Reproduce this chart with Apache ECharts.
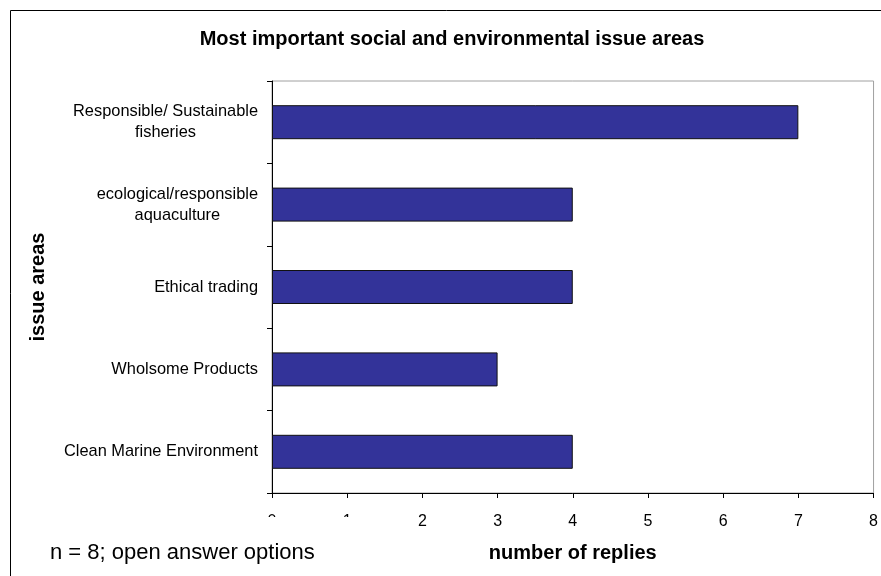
<!DOCTYPE html>
<html>
<head>
<meta charset="utf-8">
<script src="https://cdn.jsdelivr.net/npm/echarts@6/dist/echarts.min.js"></script>
<style>
  html, body { margin: 0; padding: 0; background: #fff; }
  #chart { width: 881px; height: 576px; }
</style>
</head>
<body>
<div id="chart"></div>
<script>
// Categories listed top to bottom
const categories = [
  'Responsible/ Sustainable\nfisheries',
  'ecological/responsible\naquaculture',
  'Ethical trading',
  'Wholsome Products',
  'Clean Marine Environment'
];
const replies = [7, 4, 4, 3, 4];
const xTicks = { min: 0, max: 8, interval: 1 };
const titleText = 'Most important social and environmental issue areas';
const xName = 'number of replies';
const yName = 'issue areas';
const noteText = 'n = 8; open answer options';

const FONT = '"Liberation Sans", Arial, sans-serif';

const chart = echarts.init(document.getElementById('chart'), null, { renderer: 'canvas' });
chart.setOption({
  backgroundColor: '#fff',
  animation: false,
  title: {
    text: titleText,
    left: 447,
    top: 24,
    textAlign: 'center',
    textStyle: { fontFamily: FONT, fontSize: 20, fontWeight: 'bold', color: '#000' }
  },
  grid: {
    left: 272, right: 5, top: 81, bottom: 83,
    show: true, borderColor: '#a0a0a0', borderWidth: 1, backgroundColor: 'transparent'
  },
  xAxis: {
    type: 'value',
    min: xTicks.min, max: xTicks.max, interval: xTicks.interval,
    name: xName,
    nameLocation: 'middle',
    nameGap: 50,
    nameTextStyle: { fontFamily: FONT, fontSize: 20, fontWeight: 'bold', color: '#000' },
    axisLine: { show: true, lineStyle: { color: '#000', width: 1 } },
    axisTick: { show: true, length: 5, lineStyle: { color: '#000' } },
    splitLine: { show: false },
    axisLabel: { fontFamily: FONT, fontSize: 16, color: '#000', margin: 21 }
  },
  yAxis: {
    type: 'category',
    inverse: true,
    data: categories,
    name: yName,
    nameLocation: 'middle',
    nameGap: 224,
    nameRotate: 90,
    nameTextStyle: { fontFamily: FONT, fontSize: 20, fontWeight: 'bold', color: '#000' },
    axisLine: { show: true, lineStyle: { color: '#000', width: 1 } },
    axisTick: { show: true, length: 5, lineStyle: { color: '#000' } },
    splitLine: { show: false },
    axisLabel: {
      fontFamily: FONT, fontSize: 16.4, color: '#000', margin: 14, lineHeight: 21,
      formatter: function (v) {
        return v.split('\n').map(function (s) { return '{c|' + s + '}'; }).join('\n');
      },
      rich: { c: { align: 'center', fontFamily: FONT, fontSize: 16.4, color: '#000', lineHeight: 21 } }
    }
  },
  series: [{
    type: 'bar',
    data: replies,
    barWidth: 34,
    itemStyle: { color: '#333399', borderColor: '#111', borderWidth: 1 }
  }],
  graphic: [
    {
      type: 'rect', z: 100,
      shape: { x: 11, y: 517, width: 350, height: 59 },
      style: { fill: '#fff' }
    },
    {
      type: 'text', z: 101,
      x: 50, y: 553,
      style: { text: noteText, font: '22px "Liberation Sans", Arial, sans-serif', fill: '#000', textVerticalAlign: 'middle' }
    },
    {
      type: 'rect', z: 102,
      shape: { x: 10.5, y: 10.5, width: 900, height: 600 },
      style: { fill: 'none', stroke: '#000', lineWidth: 1 }
    }
  ]
});
</script>
</body>
</html>
